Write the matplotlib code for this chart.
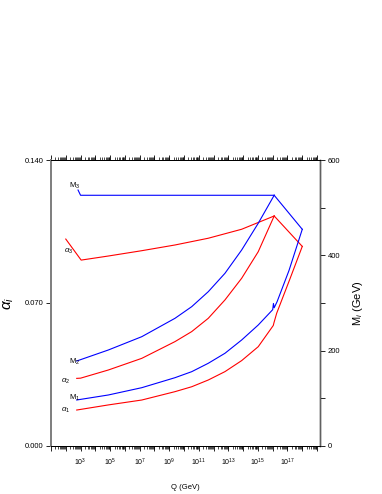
import numpy as np
import matplotlib
matplotlib.use('Agg')
import matplotlib.pyplot as plt
from matplotlib.ticker import LogLocator, FuncFormatter, FixedLocator, NullFormatter

plt.rcParams['font.family'] = ['Liberation Sans', 'DejaVu Sans']
plt.rcParams['mathtext.fontset'] = 'custom'
plt.rcParams['mathtext.rm'] = 'Liberation Sans'
plt.rcParams['mathtext.it'] = 'Liberation Sans:italic'

# data: log10(Q/GeV) and values
# couplings (left axis)
a3_logq = [2.0, 3.04, 4.88, 7.14, 9.39, 11.64, 13.90, 16.1]
a3_val = [0.1013, 0.0910, 0.0930, 0.0956, 0.0984, 0.1017, 0.1061, 0.1126]
a2_logq = [2.74, 3.0, 4.88, 7.14, 9.39, 10.52, 11.64, 12.77, 13.90, 15.02, 16.1]
a2_val = [0.0331, 0.0332, 0.0372, 0.0429, 0.0511, 0.0560, 0.0625, 0.0715, 0.0821, 0.0951, 0.1126]
a1_logq = [2.74, 4.88, 7.14, 9.39, 10.52, 11.64, 12.77, 13.90, 15.02, 16.04,
           16.08, 16.27, 17.14, 18.0]
a1_val = [0.0176, 0.0201, 0.0225, 0.0266, 0.0290, 0.0323, 0.0364, 0.0418, 0.0486, 0.0590,
          0.0602, 0.0650, 0.0813, 0.0977]
aU_logq = [16.1, 18.0]
aU_val = [0.1126, 0.0977]

# masses in GeV (right axis)
m3_logq = [2.83, 3.0, 16.1]
m3_val = [537, 526, 526]
m2_logq = [2.74, 4.88, 7.14, 9.39, 10.52, 11.64, 12.77, 13.90, 15.02, 16.1]
m2_val = [178.3, 201.4, 229.3, 267.9, 292.3, 323.7, 362.3, 411.2, 467.2, 526]
m1_logq = [2.74, 4.88, 7.14, 9.39, 10.52, 11.64, 12.77, 13.90, 15.02, 16.0,
           16.05, 16.1, 16.3, 17.1, 18.0]
m1_val = [96.5, 107.0, 122.3, 143.3, 155.9, 173.5, 194.5, 222.4, 253.8, 286,
          299, 290, 303, 368, 454.6]
mU_logq = [16.1, 18.0]
mU_val = [526, 454.6]

labeled_exp = [3, 5, 7, 9, 11, 13, 15, 17]

fig = plt.figure(figsize=(3.82, 4.94), dpi=100)
ax = fig.add_axes([0.1335, 0.0972, 0.7042, 0.5789])
ax2 = ax.twinx()

lw = 0.8
for lq, v in [(a3_logq, a3_val), (a2_logq, a2_val), (a1_logq, a1_val), (aU_logq, aU_val)]:
    ax.plot(10.0 ** np.array(lq), v, color='#ff0000', lw=lw)
for lq, v in [(m3_logq, m3_val), (m2_logq, m2_val), (m1_logq, m1_val), (mU_logq, mU_val)]:
    ax2.plot(10.0 ** np.array(lq), v, color='#0000ff', lw=lw)

ax.set_xscale('log')
ax.set_xlim(10 ** 1.0, 10 ** 19.2)
ax.set_ylim(0, 0.14)
ax2.set_ylim(0, 600)

ax.xaxis.set_major_locator(LogLocator(base=10, numticks=40))
ax.xaxis.set_minor_locator(LogLocator(base=10, subs=np.arange(2, 10), numticks=400))
ax.xaxis.set_minor_formatter(NullFormatter())
ax.xaxis.set_major_formatter(FuncFormatter(
    lambda v, p: r'$10^{%d}$' % round(np.log10(v)) if round(np.log10(v)) in labeled_exp else ''))

ax.yaxis.set_major_locator(FixedLocator([0, 0.07, 0.14]))
ax.yaxis.set_major_formatter(FuncFormatter(lambda v, p: '%.3f' % v))
ax2.yaxis.set_major_locator(FixedLocator([0, 200, 400, 600]))
ax2.yaxis.set_minor_locator(FixedLocator([100, 300, 500]))

ax.tick_params(axis='x', which='both', direction='out', top=True, labelsize=5, pad=4)
ax.tick_params(axis='x', which='major', length=3.5, width=0.6)
ax.tick_params(axis='x', which='minor', length=2, width=0.5)
ax.tick_params(axis='y', which='major', direction='out', length=3.5, width=0.6, labelsize=5.5, pad=2)
ax2.tick_params(axis='y', which='major', direction='out', length=3.5, width=0.6, labelsize=5.5, pad=2)
ax2.tick_params(axis='y', which='minor', direction='out', length=3.5, width=0.6)

for a in (ax, ax2):
    for s in a.spines.values():
        s.set_linewidth(0.7)
    a.spines['left'].set_color('#808080')
    a.spines['left'].set_linewidth(1.4)
    a.spines['right'].set_color('#606060')
    a.spines['right'].set_linewidth(1.0)

ax.set_xlabel('Q (GeV)', fontsize=5.5, labelpad=12)
ax.set_ylabel(r'$\alpha_{i}$', fontsize=11, labelpad=6)
ax2.set_ylabel(r'M$_{\mathit{i}}$ (GeV)', fontsize=8, labelpad=8)

# curve labels
fs = 5.5
ax2.text(10 ** 2.2, 535, r'M$_3$', fontsize=fs, ha='left', va='bottom')
ax.text(10 ** 1.85, 0.0955, r'$\alpha_3$', fontsize=fs, ha='left', va='center')
ax2.text(10 ** 2.2, 176, r'M$_2$', fontsize=fs, ha='left', va='center')
ax.text(10 ** 1.65, 0.0315, r'$\alpha_2$', fontsize=fs, ha='left', va='center')
ax2.text(10 ** 2.2, 100, r'M$_1$', fontsize=fs, ha='left', va='center')
ax.text(10 ** 1.7, 0.0175, r'$\alpha_1$', fontsize=fs, ha='left', va='center')

fig.savefig('out.png', dpi=100)
